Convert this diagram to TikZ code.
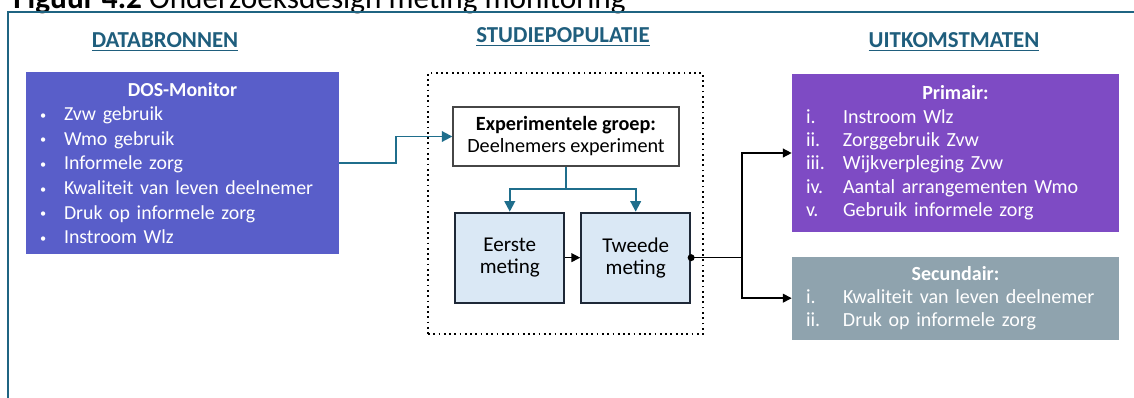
\documentclass[tikz,border=0pt]{standalone}
\usepackage{fontspec}
\setmainfont{Carlito}
\usepackage{tikz}
\usetikzlibrary{arrows.meta, positioning}
\definecolor{myframe}{RGB}{31,100,130}
\definecolor{myhead}{RGB}{31,94,125}
\definecolor{myteal}{RGB}{31,110,140}
\definecolor{mysrc}{RGB}{89,94,201}
\definecolor{myprim}{RGB}{126,75,196}
\definecolor{mysec}{RGB}{143,163,174}
\definecolor{measfill}{RGB}{218,232,245}
\definecolor{measdraw}{RGB}{30,40,55}
\definecolor{groupdraw}{RGB}{70,70,70}
\newcommand{\blt}[1]{\makebox[0.48cm][l]{\raisebox{0.15ex}{\scriptsize\textbullet}}#1}
\newcommand{\rom}[2]{\makebox[0.74cm][l]{#1}#2}
\tikzset{
  heading/.style={font=\fontsize{13}{15}\selectfont\bfseries, text=myhead},
  srcbox/.style={rectangle, fill=mysrc, text=white,
    minimum width=6.26cm, minimum height=3.64cm, text width=5.7cm,
    inner xsep=0.28cm, align=left, font=\fontsize{11.3}{14}\selectfont},
  outbox/.style={rectangle, text=white,
    minimum width=6.54cm, text width=5.98cm,
    inner xsep=0.28cm, align=left, font=\fontsize{11.4}{13.3}\selectfont},
  groupbox/.style={rectangle, draw=groupdraw, fill=white, line width=0.8pt,
    minimum width=4.52cm, minimum height=1.18cm, align=center,
    font=\fontsize{11.5}{12.5}\selectfont},
  measbox/.style={rectangle, draw=measdraw, fill=measfill, line width=1.1pt,
    minimum width=2.18cm, minimum height=1.8cm, align=center,
    font=\fontsize{12}{12.5}\selectfont},
  studybox/.style={rectangle, draw=black, dotted, line width=1pt,
    minimum width=5.5cm, minimum height=5.22cm},
  tealarrow/.style={-{Triangle[length=6pt,width=6pt]}, line width=1.1pt, color=myteal},
  tealline/.style={line width=1.1pt, color=myteal},
  blackarrow/.style={-{Triangle[length=5pt,width=5pt]}, line width=0.8pt, color=black},
  blackline/.style={line width=0.8pt, color=black}
}

\begin{document}
\begin{tikzpicture}[x=0.02cm, y=-0.02cm]
  \clip (0,0) rectangle (1134,397);
  \fill[white] (0,0) rectangle (1134,397);

  % caption and frame
  \node[anchor=base west, inner sep=0pt, font=\fontsize{17.8}{20}\selectfont] (caption) at (13,8)
    {\textbf{Figuur 4.2} Onderzoeksdesign meting monitoring};
  \draw[myframe, line width=1.2pt] (8,420) -- (8,12) -- (1150,12);

  % column headings
  \node[heading] (hsrc) at (165,42) {\underline{DATABRONNEN}};
  \node[heading] (hpop) at (563,37) {\underline{STUDIEPOPULATIE}};
  \node[heading] (hout) at (954,42) {\underline{UITKOMSTMATEN}};

  % data sources
  \node[srcbox] (dos) at (182.5,163) {%
    \makebox[5.7cm]{\bfseries DOS-Monitor}\\
    \blt{Zvw gebruik}\\
    \blt{Wmo gebruik}\\
    \blt{Informele zorg}\\
    \blt{Kwaliteit van leven deelnemer}\\
    \blt{Druk op informele zorg}\\
    \blt{Instroom Wlz}};

  % study population
  \node[studybox] (study) at (565.5,203.5) {};
  \node[groupbox] (exp) at (566,136.5) {\textbf{Experimentele groep:}\\Deelnemers experiment};
  \node[measbox, below right=0.9cm and 0.04cm of exp.south west] (eerste) {Eerste\\meting};
  \node[measbox, right=0.3cm of eerste] (tweede) {Tweede\\meting};

  % outcome measures
  \node[outbox, fill=myprim, minimum height=3.16cm] (primair) at (955.5,153) {%
    \makebox[5.98cm]{\bfseries Primair:}\\
    \rom{i.}{Instroom Wlz}\\
    \rom{ii.}{Zorggebruik Zvw}\\
    \rom{iii.}{Wijkverpleging Zvw}\\
    \rom{iv.}{Aantal arrangementen Wmo}\\
    \rom{v.}{Gebruik informele zorg}};
  \node[outbox, fill=mysec, minimum height=1.66cm, below=0.48cm of primair] (secundair) {%
    \makebox[5.98cm]{\bfseries Secundair:}\\
    \rom{i.}{Kwaliteit van leven deelnemer}\\
    \rom{ii.}{Druk op informele zorg}};

  % connectors
  \draw[tealarrow] (dos.east) -- ++(57,0) |- (exp.west);
  \draw[tealline] (exp.south) -- ++(0,22) coordinate (split);
  \draw[tealarrow] (split) -| (eerste.north);
  \draw[tealarrow] (split) -| (tweede.north);
  \draw[blackarrow] (eerste) -- (tweede);
  \fill (tweede.east) circle (3.5);
  \draw[blackline] (tweede.east) -- ++(51,0) coordinate (fork);
  \draw[blackarrow] (fork) |- (primair.west);
  \draw[blackarrow] (fork) |- (secundair.west);
\end{tikzpicture}
\end{document}
